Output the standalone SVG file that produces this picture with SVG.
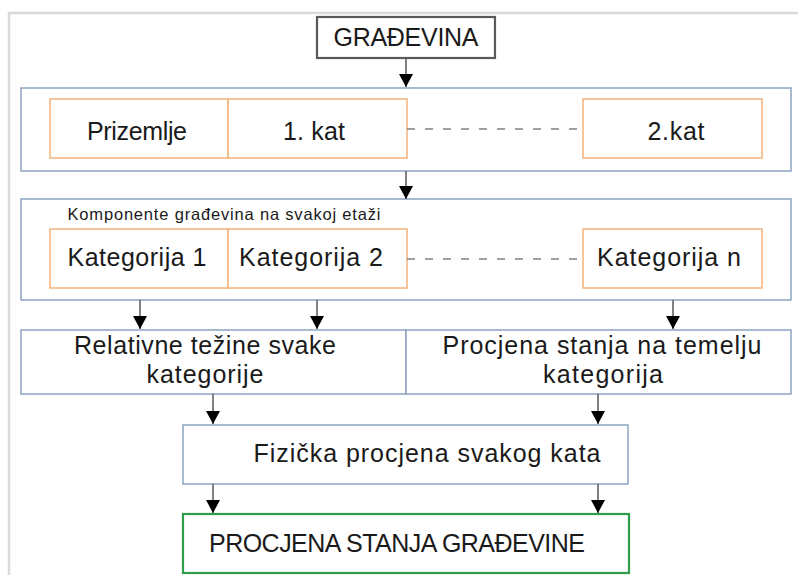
<svg xmlns="http://www.w3.org/2000/svg" width="798" height="575" viewBox="0 0 798 575">
<defs>
<marker id="arr" viewBox="0 0 13 14" refX="13" refY="7" markerWidth="13" markerHeight="14" markerUnits="userSpaceOnUse" orient="auto">
<path d="M0,0 L13,7 L0,14 Z" fill="#000"/>
</marker>
</defs>
<style>
text{font-family:"Liberation Sans",Arial,sans-serif;fill:#1a1a1a;text-anchor:middle}
.big{font-size:25px}
.sm{font-size:16.5px}
.grp{fill:#fff;stroke:#8ca3c1;stroke-width:1.5}
.org{fill:#fff;stroke:#f4b27a;stroke-width:1.5}
.dash{stroke:#808080;stroke-width:1.5;stroke-dasharray:8 10}
.con{stroke:#595959;stroke-width:1.5;fill:none;marker-end:url(#arr)}
</style>
<rect width="798" height="575" fill="#fff"/>
<path d="M9,575 V13 H798" fill="none" stroke="#d9d9d9" stroke-width="2.5"/>

<g id="gradevina">
<rect x="317" y="17" width="178" height="41" fill="#fff" stroke="#595959" stroke-width="2.2"/>
<text class="big" x="406" y="46" textLength="145">GRAĐEVINA</text>
</g>

<g id="etaze">
<rect class="grp" x="21" y="88" width="770" height="83"/>
<rect class="org" x="50" y="99" width="178" height="59"/>
<text class="big" x="137" y="140" textLength="100">Prizemlje</text>
<rect class="org" x="228" y="99" width="179" height="59"/>
<text class="big" x="314" y="140" textLength="62">1. kat</text>
<rect class="org" x="583" y="99" width="179" height="59"/>
<text class="big" x="676" y="140" textLength="57">2.kat</text>
</g>

<g id="komponente">
<rect class="grp" x="21" y="199" width="770" height="101"/>
<text class="sm" x="224" y="220" textLength="313">Komponente građevina na svakoj etaži</text>
<rect class="org" x="50" y="229" width="178" height="59"/>
<text class="big" x="137" y="266" textLength="139">Kategorija 1</text>
<rect class="org" x="228" y="229" width="179" height="59"/>
<text class="big" x="311" y="266" textLength="144">Kategorija 2</text>
<rect class="org" x="583" y="229" width="179" height="59"/>
<text class="big" x="669" y="266" textLength="144">Kategorija n</text>
</g>

<g id="relativne">
<rect class="grp" x="21" y="330" width="385" height="64"/>
<text class="big" x="205" y="354" textLength="262">Relativne težine svake</text>
<text class="big" x="205" y="383" textLength="117">kategorije</text>
</g>

<g id="procjena-kategorija">
<rect class="grp" x="406" y="330" width="385" height="64"/>
<text class="big" x="602" y="354" textLength="319">Procjena stanja na temelju</text>
<text class="big" x="603" y="383" textLength="120">kategorija</text>
</g>

<g id="fizicka">
<rect class="grp" x="183" y="425" width="445" height="59"/>
<text class="big" x="427" y="462" textLength="347">Fizička procjena svakog kata</text>
</g>

<g id="procjena-gradevine">
<rect x="183" y="514" width="446" height="59" fill="#fff" stroke="#2e9e48" stroke-width="2.2"/>
<text class="big" x="397" y="552" textLength="376">PROCJENA STANJA GRAĐEVINE</text>
</g>

<g id="connectors">
<line class="dash" x1="407" y1="129" x2="583" y2="129"/>
<line class="dash" x1="407" y1="259" x2="583" y2="259"/>
<line class="con" x1="406" y1="58" x2="406" y2="87"/>
<line class="con" x1="406" y1="171" x2="406" y2="199"/>
<line class="con" x1="140" y1="300" x2="140" y2="329"/>
<line class="con" x1="317" y1="300" x2="317" y2="329"/>
<line class="con" x1="673" y1="300" x2="673" y2="329"/>
<line class="con" x1="213" y1="394" x2="213" y2="424"/>
<line class="con" x1="598" y1="394" x2="598" y2="424"/>
<line class="con" x1="213" y1="484" x2="213" y2="513"/>
<line class="con" x1="598" y1="484" x2="598" y2="513"/>
</g>
</svg>
